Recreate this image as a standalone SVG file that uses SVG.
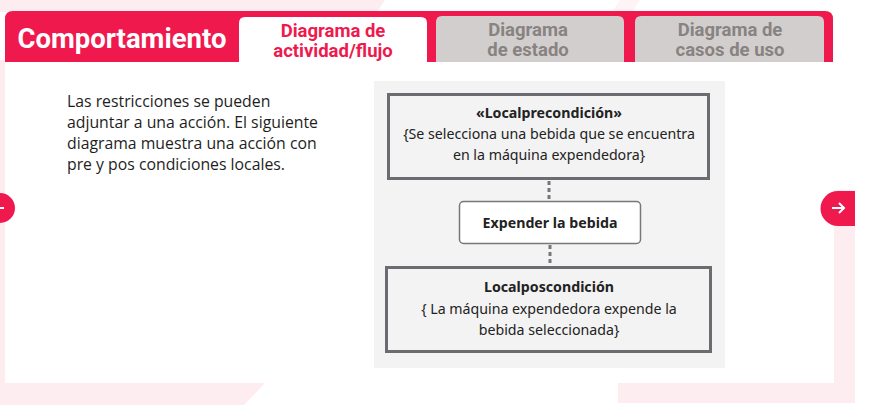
<svg xmlns="http://www.w3.org/2000/svg" width="871" height="408" viewBox="0 0 871 408">
<style>
.pink{fill:#fdecf0}
.tabt{font-family:Roboto,"Liberation Sans",sans-serif;font-weight:bold;font-size:18.5px;text-anchor:middle}
.para{font-family:"Open Sans","Noto Sans",sans-serif;font-size:15.8px;fill:#1e1e1e}
.dt{font-family:"Noto Sans","Open Sans",sans-serif;font-size:14.2px;fill:#222;text-anchor:middle}
.b{font-weight:bold}
.big{stroke:#6c6c70;stroke-width:3;fill:#f3f3f3}
.conn{stroke:#77777a;stroke-width:3;stroke-dasharray:4 3;fill:none}
</style>
<rect width="871" height="408" fill="#ffffff"/>
<g id="background">
<polygon class="pink" points="0,0 385,0 377,12 0,12"/>
<polygon class="pink" points="620,0 640,0 632,12 612,12" opacity="0.6"/>
<rect class="pink" x="0" y="60" width="5" height="345"/>
<polygon class="pink" points="0,383 265,383 244,405 0,405"/>
<rect class="pink" x="618" y="383" width="237" height="20"/>
<rect class="pink" x="834" y="190" width="21" height="213"/>
</g>
<g id="header">
<path d="M5,62 V19 Q5,11 13,11 H825 Q833,11 833,19 V62 Z" fill="#ef194e"/>
<text x="122" y="48" font-family="Roboto,'Liberation Sans',sans-serif" font-weight="bold" font-size="27.5" fill="#ffffff" text-anchor="middle">Comportamiento</text>
</g>
<g id="tab-actividad">
<path d="M239,62 V23 Q239,17 245,17 H421 Q427,17 427,23 V62 Z" fill="#ffffff"/>
<text class="tabt" x="333" y="37" fill="#ef194e">Diagrama de</text>
<text class="tabt" x="333" y="57" fill="#ef194e">actividad/flujo</text>
</g>
<g id="tab-estado">
<path d="M436,62 V22 Q436,16 442,16 H618 Q624,16 624,22 V62 Z" fill="#d2cecd"/>
<text class="tabt" x="528" y="36" fill="#878382">Diagrama</text>
<text class="tabt" x="528" y="56" fill="#878382">de estado</text>
</g>
<g id="tab-casos">
<path d="M635,62 V22 Q635,16 641,16 H818 Q824,16 824,22 V62 Z" fill="#d2cecd"/>
<text class="tabt" x="730" y="36" fill="#878382">Diagrama de</text>
<text class="tabt" x="730" y="56" fill="#878382">casos de uso</text>
</g>
<g id="paragraph">
<text class="para" x="67" y="107">Las restricciones se pueden</text>
<text class="para" x="67" y="128">adjuntar a una acción. El siguiente</text>
<text class="para" x="67" y="149">diagrama muestra una acción con</text>
<text class="para" x="67" y="170">pre y pos condiciones locales.</text>
</g>
<g id="nav-prev">
<circle cx="0" cy="208" r="15" fill="#ef194e"/>
<line x1="0" y1="208" x2="4" y2="208" stroke="#fff" stroke-width="2"/>
</g>
<g id="nav-next">
<path d="M855,191 H838 A17,17 0 0 0 838,226 H855 Z" fill="#ef194e"/>
<path d="M832,208 H844 M839,203 L844,208 L839,213" stroke="#fff" stroke-width="2" fill="none"/>
</g>
<rect id="panel" x="374" y="81" width="351" height="287" fill="#f3f3f3"/>
<g id="connectors">
<line class="conn" x1="549" y1="181" x2="549" y2="200"/>
<line class="conn" x1="550" y1="245" x2="550" y2="266"/>
</g>
<g id="precondicion">
<rect class="big" x="388.5" y="94.5" width="320" height="84"/>
<text class="dt b" x="549" y="118">«Localprecondición»</text>
<text class="dt" x="549" y="139">{Se selecciona una bebida que se encuentra</text>
<text class="dt" x="549" y="160">en la máquina expendedora}</text>
</g>
<g id="accion">
<rect x="459.5" y="201.5" width="181" height="42" rx="4" fill="#ffffff" stroke="#77777a" stroke-width="1.5"/>
<text class="dt b" x="550" y="228">Expender la bebida</text>
</g>
<g id="poscondicion">
<rect class="big" x="386.5" y="267.5" width="324" height="84"/>
<text class="dt b" x="549" y="292">Localposcondición</text>
<text class="dt" x="549" y="314">{ La máquina expendedora expende la</text>
<text class="dt" x="549" y="335">bebida seleccionada}</text>
</g>
</svg>
